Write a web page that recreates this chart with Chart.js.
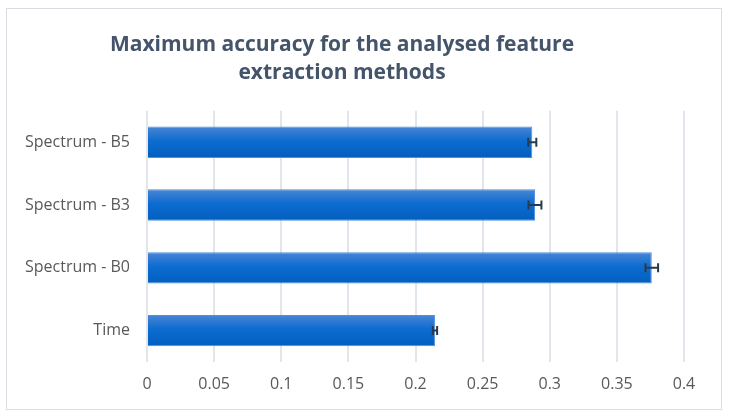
<!DOCTYPE html>
<html>
<head>
<meta charset="utf-8">
<script src="https://cdn.jsdelivr.net/npm/chart.js@4/dist/chart.umd.min.js"></script>
<style>
  html, body { margin: 0; padding: 0; background: #fff; }
  #wrap { position: relative; width: 729px; height: 418px; }
</style>
</head>
<body>
<div id="wrap"><canvas id="chart" width="729" height="418"></canvas></div>
<script>
// values
const methods = ['Spectrum - B5', 'Spectrum - B3', 'Spectrum - B0', 'Time'];
const accuracy = [0.287, 0.289, 0.376, 0.2145];
const errors = [0.003, 0.0048, 0.0047, 0.0016];
const xTicks = [0, 0.05, 0.1, 0.15, 0.2, 0.25, 0.3, 0.35, 0.4];
const xTickLabels = ['0', '0.05', '0.1', '0.15', '0.2', '0.25', '0.3', '0.35', '0.4'];

const titleLines = ['Maximum accuracy for the analysed feature', 'extraction methods'];

// bar fill: lighter at the top, deeper blue at the bottom
function barFill(c) {
    const chart = c.chart;
    const yScale = chart.scales.y;
    if (!yScale || !chart.chartArea) return '#1f6fd0';
    const yc = yScale.getPixelForValue(c.dataIndex);
    const h = (yScale.bottom - yScale.top) / methods.length * 0.5;
    const g = chart.ctx.createLinearGradient(0, yc - h / 2, 0, yc + h / 2);
    g.addColorStop(0, '#4a86d4');
    g.addColorStop(0.45, '#0d6cd0');
    g.addColorStop(1, '#005fbe');
    return g;
}

// outer frame like the office chart box
const frame = {
    id: 'frame',
    beforeDraw(chart) {
        const ctx = chart.ctx;
        ctx.save();
        ctx.strokeStyle = '#d9dde3';
        ctx.lineWidth = 1;
        ctx.strokeRect(6.5, 8.5, 715, 401);
        ctx.restore();
    }
};

const errorBars = {
    id: 'errorBars',
    afterDatasetsDraw(chart) {
        const ctx = chart.ctx;
        const x = chart.scales.x;
        const meta = chart.getDatasetMeta(0);
        ctx.save();
        ctx.strokeStyle = '#2b3a4a';
        ctx.lineWidth = 2;
        meta.data.forEach((bar, i) => {
            const x1 = x.getPixelForValue(accuracy[i] - errors[i]);
            const x2 = x.getPixelForValue(accuracy[i] + errors[i]);
            const y = bar.y;
            ctx.beginPath();
            ctx.moveTo(x1, y);
            ctx.lineTo(x2, y);
            ctx.moveTo(x1, y - 4.5);
            ctx.lineTo(x1, y + 4.5);
            ctx.moveTo(x2, y - 4.5);
            ctx.lineTo(x2, y + 4.5);
            ctx.stroke();
        });
        ctx.restore();
    }
};

new Chart(document.getElementById('chart'), {
    type: 'bar',
    data: {
        labels: methods,
        datasets: [{
            label: 'Accuracy',
            data: accuracy,
            backgroundColor: barFill,
            borderColor: '#4f8fdc',
            borderWidth: 1,
            categoryPercentage: 0.5,
            barPercentage: 1
        }]
    },
    options: {
        indexAxis: 'y',
        responsive: false,
        animation: false,
        layout: {
            padding: { top: 17, right: 45, bottom: 0, left: 0 }
        },
        plugins: {
            legend: { display: false },
            tooltip: { enabled: false },
            title: {
                display: true,
                text: titleLines,
                color: '#44546a',
                font: { family: 'Open Sans', size: 21, weight: 'bold', lineHeight: 1.33 },
                padding: { top: 14, bottom: 24 }
            }
        },
        scales: {
            x: {
                min: 0,
                max: 0.4,
                afterBuildTicks(scale) {
                    scale.ticks = xTicks.map(v => ({ value: v }));
                },
                afterFit(scale) {
                    scale.height = 56;
                },
                grid: {
                    color: '#e1e6ec',
                    lineWidth: 2,
                    drawTicks: false
                },
                border: { display: false },
                ticks: {
                    color: '#595959',
                    padding: 13,
                    font: { family: 'Open Sans', size: 16 },
                    callback: (v, i) => xTickLabels[i]
                }
            },
            y: {
                afterFit(scale) {
                    scale.width = 147;
                },
                grid: { display: false, drawTicks: false },
                border: { display: false },
                ticks: {
                    color: '#595959',
                    padding: 17,
                    font: { family: 'Open Sans', size: 16 }
                }
            }
        }
    },
    plugins: [frame, errorBars]
});
</script>
</body>
</html>
